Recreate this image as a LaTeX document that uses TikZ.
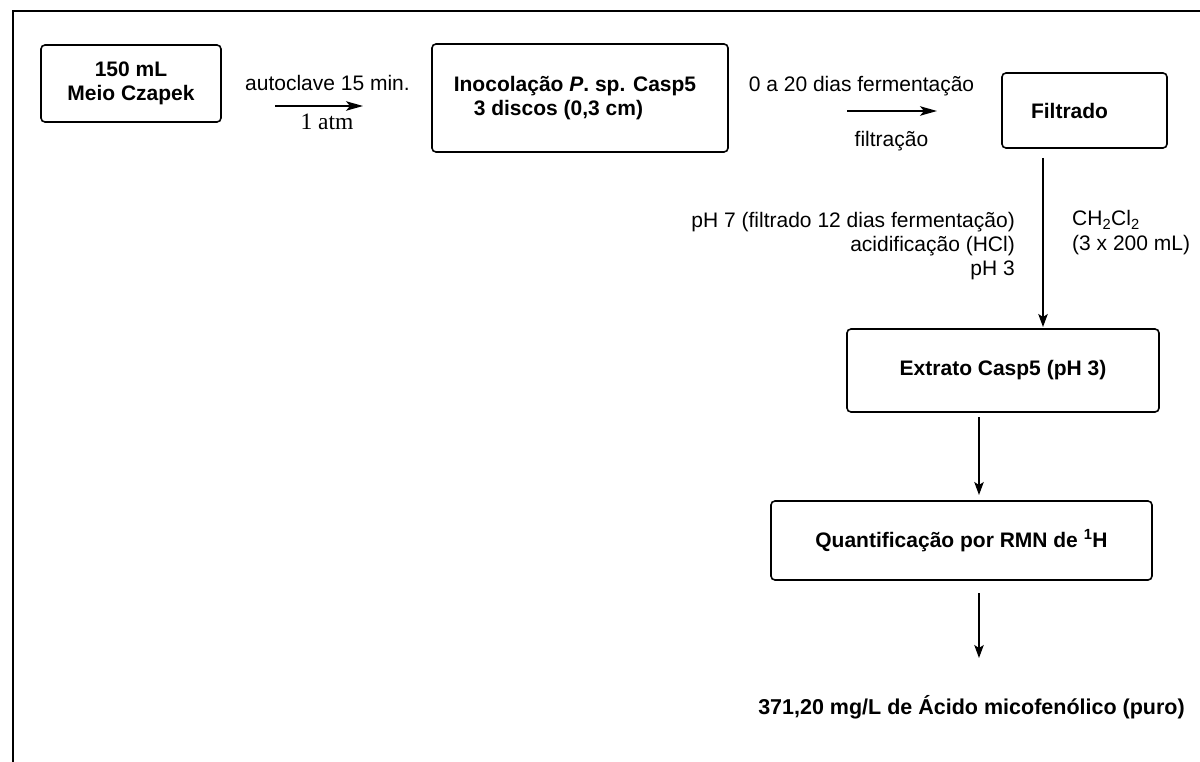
\documentclass[tikz,border=0pt]{standalone}
\usepackage{fontspec}
\setmainfont{Liberation Sans}
\newfontfamily\serifrm{Liberation Serif}
\usetikzlibrary{arrows.meta}
\begin{document}
\begin{tikzpicture}[x=1pt,y=-1pt,
  box/.style={draw, line width=1.6pt, rounded corners=4pt, outer sep=0pt,
    inner sep=0pt, align=center, font=\fontsize{21}{24.5}\selectfont\bfseries},
  lbl/.style={inner sep=0pt, font=\fontsize{21}{24.5}\selectfont},
  harr/.style={line width=1.3pt, -{Stealth[length=17pt,width=9.5pt,inset=4pt]}},
  varr/.style={line width=1.3pt, -{Stealth[length=13pt,width=9.5pt,inset=3pt]}}]
\useasboundingbox (0,0) rectangle (1200,762);

% outer frame (top and left edges)
\draw[line width=2pt] (13,762) -- (13,11.5) -- (1200,11.5);

% process boxes
\node[box, minimum width=180pt, minimum height=77pt] (b1) at (131,83.5)
  {150 mL\\Meio Czapek};
\node[box, minimum width=296pt, minimum height=108pt, align=left] (b2) at (580,98)
  {Inocolação \textit{P}. sp. Casp5\hspace*{10pt}\\\hspace*{20pt}3 discos (0,3 cm)};
\node[box, minimum width=165pt, minimum height=75pt] (f) at (1084.5,110.5)
  {Filtrado\hspace*{30pt}};
\node[box, minimum width=312pt, minimum height=83pt] (e) at (1003,370.5)
  {Extrato Casp5 (pH 3)};
\node[box, minimum width=381pt, minimum height=79pt] (q) at (961.5,540.5)
  {Quantificação por RMN de \textsuperscript{1}H};

% step conditions
\node[lbl, anchor=base] (t1) at (327.5,91) {autoclave 15 min.};
\node[inner sep=0pt, anchor=base, font=\serifrm\fontsize{23.5}{26}\selectfont] (t2) at (327,130) {1 atm};
\node[lbl, anchor=base] (t3) at (861.5,92) {0 a 20 dias fermentação};
\node[lbl, anchor=base] (t4) at (891.5,147) {filtração};
\node[lbl, anchor=north east, align=right, font=\fontsize{21}{24}\selectfont] (t5) at (1015,212.5)
  {pH 7 (filtrado 12 dias fermentação)\\acidificação (HCl)\\pH 3};
\node[lbl, anchor=north west, align=left, font=\fontsize{21}{25}\selectfont] (t6) at (1072,210.5)
  {CH\textsubscript{2}Cl\textsubscript{2}\\(3 x 200 mL)};

% final result
\node[lbl, anchor=base, font=\fontsize{21.5}{25}\selectfont\bfseries] (res) at (971.5,714)
  {371,20 mg/L de Ácido micofenólico (puro)};

% connector rows / columns
\coordinate (r1) at (0,106);
\coordinate (r2) at (0,111);
\coordinate (c1) at (1043,0);
\coordinate (c2) at (979,0);
\coordinate (end3) at (979,658);

\draw[harr, shorten <=54pt, shorten >=69pt] (b1.east |- r1) -- (b2.west |- r1);
\draw[harr, shorten <=119pt, shorten >=65pt] (b2.east |- r2) -- (f.west |- r2);
\draw[varr, shorten <=10pt, shorten >=2pt] (f.south -| c1) -- (e.north -| c1);
\draw[varr, shorten <=5pt, shorten >=6pt] (e.south -| c2) -- (q.north -| c2);
\draw[varr, shorten <=13pt] (q.south -| c2) -- (end3);
\end{tikzpicture}
\end{document}
